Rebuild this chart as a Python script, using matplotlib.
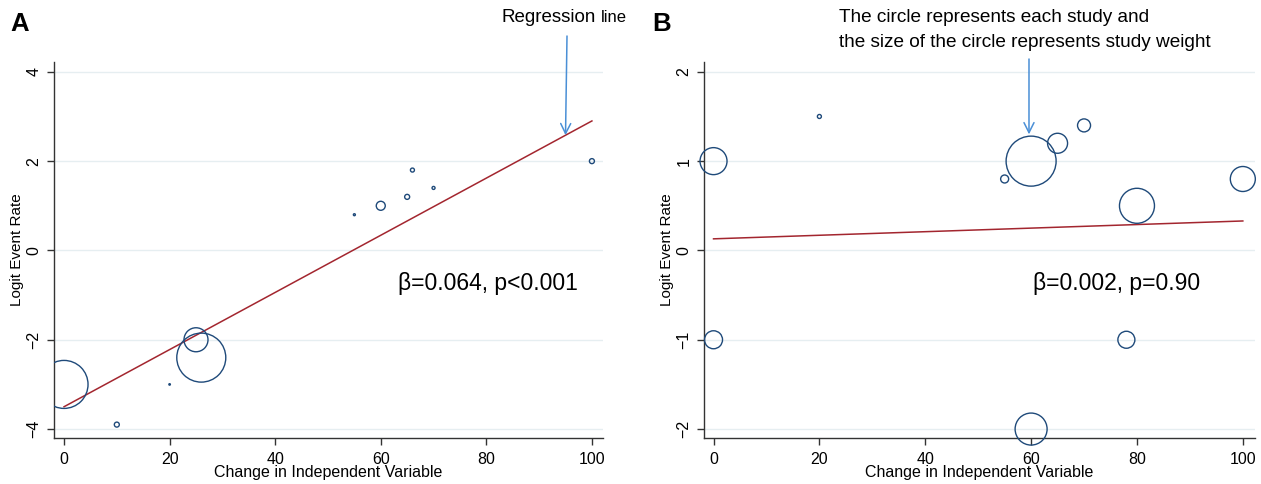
import matplotlib
matplotlib.use('Agg')
import matplotlib.pyplot as plt

plt.rcParams['font.family'] = ['Liberation Sans', 'DejaVu Sans']

# Panel A data: x, logit event rate, marker diameter (px)
xA = [0, 10, 20, 25, 26, 55, 60, 65, 66, 70, 100]
yA = [-3.0, -3.9, -3.0, -2.0, -2.4, 0.8, 1.0, 1.2, 1.8, 1.4, 2.0]
dA = [48, 5, 1.5, 24, 49, 2, 9, 5, 4, 3, 5]
lineA = [-3.5, 2.9]  # regression at x=0 and x=100

# Panel B data
xB = [0, 0, 20, 55, 60, 65, 70, 80, 78, 100, 60]
yB = [1.0, -1.0, 1.5, 0.8, 1.0, 1.2, 1.4, 0.5, -1.0, 0.8, -2.0]
dB = [27, 18, 4, 8, 50, 20, 13, 35, 17, 25, 32]
lineB = [0.13, 0.33]

circ = '#1f4a7a'
red = '#a3262f'
grid = '#e6eef1'
arrow = '#4a8fd6'

fig = plt.figure(figsize=(12.61, 4.84), dpi=100)
axA = fig.add_axes([54/1261, 46/484, 549/1261, 376/484])
axB = fig.add_axes([704/1261, 46/484, 551/1261, 376/484])


def style(ax, yticks, ylim, xlim):
    ax.set_xlim(*xlim)
    ax.set_ylim(*ylim)
    ax.set_xticks([0, 20, 40, 60, 80, 100])
    ax.set_yticks(yticks)
    for s in ['top', 'right']:
        ax.spines[s].set_visible(False)
    for s in ['left', 'bottom']:
        ax.spines[s].set_color('#333333')
        ax.spines[s].set_linewidth(1.0)
    ax.tick_params(length=5, width=1, color='#333333', labelsize=11.5)
    ax.tick_params(axis='x', pad=5)
    ax.tick_params(axis='y', pad=4)
    for t in ax.get_yticklabels():
        t.set_rotation(90)
        t.set_va('center')
    ax.grid(axis='y', color=grid, linewidth=1)
    ax.set_axisbelow(True)
    ax.set_xlabel('Change in Independent Variable', fontsize=11.5, va='center')
    ax.xaxis.set_label_coords(0.5, -35/376)
    ax.set_ylabel('Logit Event Rate', fontsize=11, labelpad=2)


style(axA, [-4, -2, 0, 2, 4], (-4.2, 4.22), (-1.9, 102.1))
axA.scatter(xA, yA, s=[(d * 0.72) ** 2 for d in dA], facecolors='none',
            edgecolors=circ, linewidths=1, zorder=3)
axA.plot([0, 100], lineA, color=red, linewidth=1.1, zorder=2)
axA.text(63.3, -0.74, 'β=0.064, p<0.001', fontsize=16.5, va='center', ha='left')

style(axB, [-2, -1, 0, 1, 2], (-2.1, 2.11), (-1.8, 102.3))
axB.scatter(xB, yB, s=[(d * 0.72) ** 2 for d in dB], facecolors='none',
            edgecolors=circ, linewidths=1, zorder=3, clip_on=False)
axB.plot([0, 100], lineB, color=red, linewidth=1.1, zorder=2)
axB.text(60.3, -0.37, 'β=0.002, p=0.90', fontsize=16.5, va='center', ha='left')

# panel letters
fig.text(10/1261, 1 - 24/484, 'A', fontsize=18.5, fontweight='heavy', va='center')
fig.text(652/1261, 1 - 24/484, 'B', fontsize=18.5, fontweight='heavy', va='center')

# annotations
fig.text(502/1261, 1 - 18/484, 'Regression', fontsize=13.5, va='center', ha='left')
fig.text(601/1261, 1 - 18/484, 'line', fontsize=12, va='center', ha='left')
axA.annotate('', xy=(95, 2.58), xycoords='data',
             xytext=(567/1261, 1 - 36/484), textcoords='figure fraction',
             arrowprops=dict(arrowstyle='->', color=arrow, lw=1.1,
                             mutation_scale=18, shrinkA=0, shrinkB=0))

fig.text(839/1261, 1 - 30/484,
         'The circle represents each study and\nthe size of the circle represents study weight',
         fontsize=13.7, va='center', ha='left', linespacing=1.55)
axB.annotate('', xy=(59.6, 1.3), xycoords='data',
             xytext=(1029/1261, 1 - 59/484), textcoords='figure fraction',
             arrowprops=dict(arrowstyle='->', color=arrow, lw=1.1,
                             mutation_scale=18, shrinkA=0, shrinkB=0))

fig.savefig('out.png', dpi=100)
